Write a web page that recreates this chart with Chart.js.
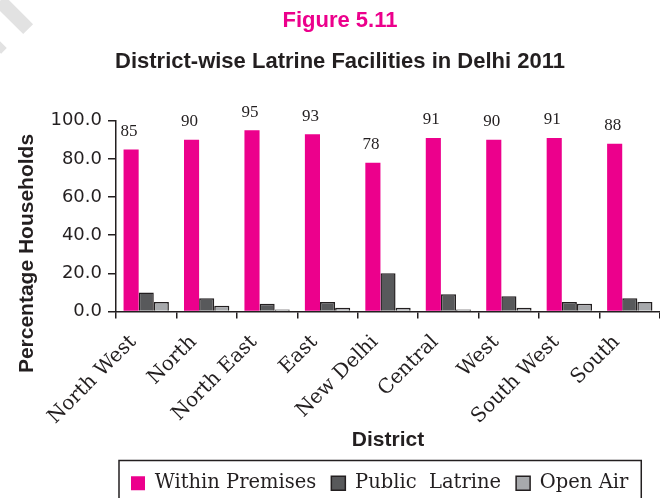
<!DOCTYPE html>
<html>
<head>
<meta charset="utf-8">
<script src="https://cdn.jsdelivr.net/npm/chart.js@4/dist/chart.umd.min.js"></script>
<style>
  html, body { margin: 0; padding: 0; background: #fff; }
  #wrap { position: relative; width: 660px; height: 498px; overflow: hidden; }
  /* faint grey corner marks in the page margin */
  .mark { position: absolute; background: #e2e2e2; transform: rotate(45deg); }
  #m1 { left: -6px; top: 8px; width: 40px; height: 14px; }
  #m2 { left: -8px; top: 42px; width: 14px; height: 8px; }
  canvas { position: absolute; left: 0; top: 0; }
</style>
</head>
<body>
<div id="wrap">
  <div class="mark" id="m1"></div>
  <div class="mark" id="m2"></div>
  <!-- canvas runs a little past the bottom edge so the legend frame is cut open -->
  <canvas id="chart" width="660" height="503"></canvas>
</div>
<script>
// District-wise latrine facilities, Delhi 2011 (% of households)
const districts = ['North West', 'North', 'North East', 'East', 'New Delhi',
                   'Central', 'West', 'South West', 'South'];
const withinPremises = [85, 90, 95, 93, 78, 91, 90, 91, 88];
const publicLatrine  = [10, 7, 4, 5, 20, 9, 8, 5, 7];
const openAir        = [5, 3, 1, 2, 2, 1, 2, 4, 5];
const yTicks = [0, 20, 40, 60, 80, 100];
const yTitle = 'Percentage Households';

const PINK = '#EC008C';
const INK = '#231F20';
const SERIF = "'DejaVu Serif', serif";
const SANS = "'Liberation Sans', Arial, sans-serif";

// value labels above the pink bars
const barLabels = {
  id: 'barLabels',
  afterDatasetsDraw(chart) {
    const meta = chart.getDatasetMeta(0);
    const ctx = chart.ctx;
    ctx.save();
    ctx.fillStyle = INK;
    ctx.font = "17px 'Liberation Serif', serif";
    ctx.textAlign = 'center';
    ctx.textBaseline = 'middle';
    meta.data.forEach((bar, i) => {
      ctx.fillText(String(withinPremises[i]), bar.x - 2, bar.y - 18);
    });
    ctx.restore();
  },
};

// y-axis title sits lower than the plot's middle, so it is drawn by hand
const sideTitle = {
  id: 'sideTitle',
  afterDraw(chart) {
    const { chartArea } = chart;
    const ctx = chart.ctx;
    ctx.save();
    ctx.translate(27, chartArea.bottom - 58);
    ctx.rotate(-Math.PI / 2);
    ctx.fillStyle = INK;
    ctx.font = `bold 21px ${SANS}`;
    ctx.textAlign = 'center';
    ctx.textBaseline = 'middle';
    ctx.fillText(yTitle, 0, 0);
    ctx.restore();
  },
};

// outline around the legend row (left open at the bottom)
const legendFrame = {
  id: 'legendFrame',
  afterDraw(chart) {
    const boxes = chart.legend && chart.legend.legendHitBoxes;
    if (!boxes || !boxes.length) return;
    const left = Math.min(...boxes.map(b => b.left)) - 12;
    const right = Math.max(...boxes.map(b => b.left + b.width)) + 13;
    const top = boxes[0].top - 13;
    const ctx = chart.ctx;
    ctx.save();
    ctx.strokeStyle = INK;
    ctx.lineWidth = 1.5;
    ctx.strokeRect(left, top, right - left, chart.height - top + 10);
    ctx.restore();
  },
};

new Chart(document.getElementById('chart'), {
  type: 'bar',
  data: {
    labels: districts,
    datasets: [
      { label: 'Within Premises', data: withinPremises, backgroundColor: PINK, borderWidth: 0 },
      { label: 'Public  Latrine', data: publicLatrine, backgroundColor: '#58595B', borderColor: INK, borderWidth: 1.5 },
      { label: 'Open Air', data: openAir, backgroundColor: '#A7A9AC', borderColor: INK, borderWidth: 1.5 },
    ],
  },
  options: {
    responsive: false,
    animation: false,
    layout: { padding: { left: 20, right: 0, top: 0, bottom: 0 } },
    datasets: { bar: { categoryPercentage: 0.75, barPercentage: 1.0 } },
    plugins: {
      title: {
        display: true,
        text: 'Figure 5.11',
        color: PINK,
        font: { family: SANS, size: 22, weight: 'bold' },
        padding: { top: 8, bottom: 8 },
      },
      subtitle: {
        display: true,
        text: 'District-wise Latrine Facilities in Delhi 2011',
        color: INK,
        font: { family: SANS, size: 22, weight: 'bold' },
        padding: { top: 6, bottom: 46 },
      },
      legend: {
        position: 'bottom',
        align: 'start',
        fullSize: false,
        labels: {
          color: INK,
          font: { family: SERIF, size: 19.5 },
          boxWidth: 14,
          boxHeight: 14,
          padding: 15,
        },
      },
      tooltip: { enabled: false },
    },
    scales: {
      x: {
        afterFit: (scale) => { scale.height = 147; },
        grid: { drawOnChartArea: false, drawTicks: true, tickLength: 7, color: INK, lineWidth: 1.5 },
        border: { display: true, color: INK, width: 1.5 },
        ticks: {
          color: INK,
          font: { family: SERIF, size: 20 },
          minRotation: 45,
          maxRotation: 45,
          padding: 12,
          labelOffset: -13,
          autoSkip: false,
        },
        title: {
          display: true,
          text: 'District',
          color: INK,
          font: { family: SANS, size: 21, weight: 'bold' },
          padding: { top: 4, bottom: 6 },
        },
      },
      y: {
        min: 0,
        max: 100,
        afterFit: (scale) => { scale.width = 96; },
        afterBuildTicks: (scale) => { scale.ticks = yTicks.map(v => ({ value: v })); },
        grid: { drawOnChartArea: false, drawTicks: true, tickLength: 8, color: INK, lineWidth: 1.5 },
        border: { display: true, color: INK, width: 1.5 },
        ticks: {
          color: INK,
          font: { family: "'DejaVu Sans', sans-serif", size: 18 },
          padding: 6,
          callback: (v) => Number(v).toFixed(1),
        },
        title: { display: false },
      },
    },
  },
  plugins: [barLabels, sideTitle, legendFrame],
});
</script>
</body>
</html>
